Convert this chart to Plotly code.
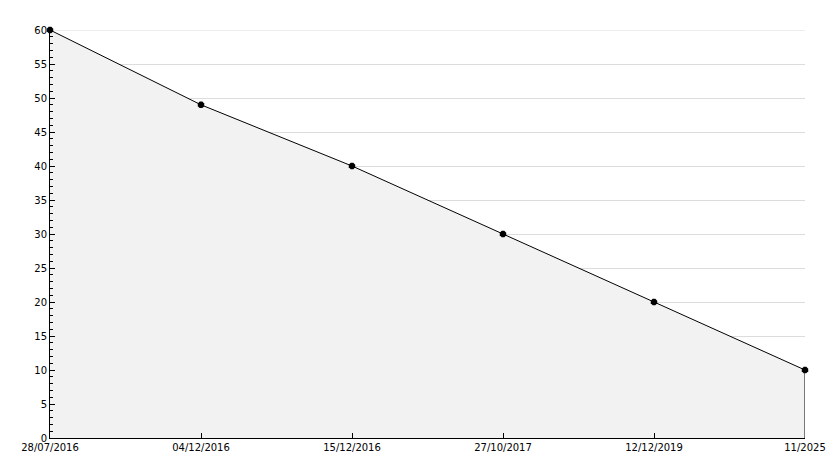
import plotly.graph_objects as go

dates = ["28/07/2016", "04/12/2016", "15/12/2016", "27/10/2017", "12/12/2019", "11/2025"]
values = [60, 49, 40, 30, 20, 10]
y_max = 60

fig = go.Figure()
fig.add_trace(go.Scatter(
    x=dates, y=values, mode="lines+markers",
    line=dict(color="black", width=1),
    marker=dict(color="black", size=7, symbol="octagon"),
    fill="tozeroy", fillcolor="#f2f2f2",
    cliponaxis=False,
    hoverinfo="x+y", showlegend=False,
))
fig.add_trace(go.Scatter(
    x=[dates[-1], dates[-1]], y=[0, values[-1]], mode="lines",
    line=dict(color="black", width=1), hoverinfo="skip", showlegend=False,
))

# top gridline (plotly skips gridlines at the range edge)
fig.add_shape(type="line", xref="paper", x0=0, x1=1, yref="y", y0=y_max, y1=y_max,
              line=dict(color="#dcdcdc", width=1), layer="below")

# page body has an 8px default margin, so the figure is drawn 8px smaller
fig.update_layout(
    width=826, height=460,
    margin=dict(l=42, r=29, t=22, b=30),
    paper_bgcolor="white", plot_bgcolor="white",
    font=dict(family="DejaVu Sans", size=10, color="black"),
    xaxis=dict(
        type="category", range=[0, len(dates) - 1],
        showgrid=False, zeroline=False, automargin=False,
        showline=True, linecolor="black", linewidth=1,
        ticks="inside", ticklen=5, tickcolor="black",
        tickfont=dict(size=10), fixedrange=True,
    ),
    yaxis=dict(
        range=[0, y_max], dtick=5, tick0=0,
        showgrid=True, gridcolor="#dcdcdc", gridwidth=1,
        zeroline=False, automargin=False,
        showline=True, linecolor="black", linewidth=1,
        ticks="inside", ticklen=5, tickcolor="black",
        minor=dict(ticks="inside", ticklen=3, dtick=1, tickcolor="black", showgrid=False),
        tickfont=dict(size=10), fixedrange=True,
    ),
)

fig.write_html("out.html")
